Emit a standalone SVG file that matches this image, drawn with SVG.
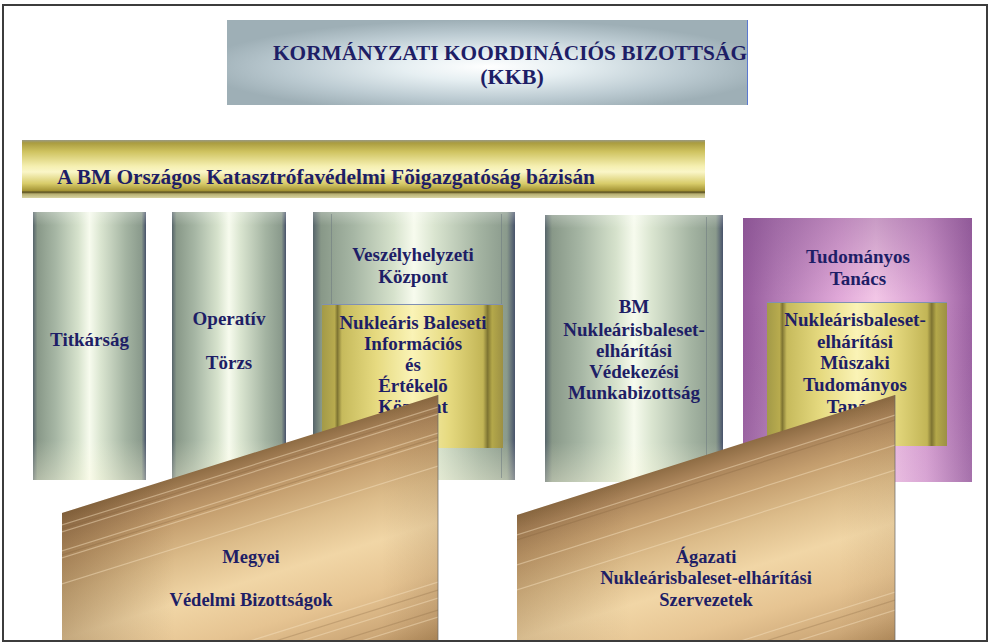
<svg xmlns="http://www.w3.org/2000/svg" width="990" height="644" viewBox="0 0 990 644" font-family="'Liberation Serif', 'Times New Roman', serif">
<defs>
<style>
text{font-family:"Liberation Serif","Times New Roman",serif;font-weight:bold;fill:#1e1e66;text-anchor:middle}
.t19{font-size:19px}
.t18{font-size:18.5px}
.t22{font-size:22px}
.edge{fill:none;stroke:#6d7a80;stroke-width:1;opacity:.55}
.stripeL{stroke:#f6e2c0;stroke-width:1.2;opacity:.45;fill:none}
.stripeD{stroke:#7a5a36;stroke-width:1.2;opacity:.25;fill:none}
</style>
<linearGradient id="gCol" x1="0" y1="0" x2="1" y2="0">
<stop offset="0" stop-color="#56646a"/>
<stop offset="0.04" stop-color="#889888"/>
<stop offset="0.2" stop-color="#a6b6a4"/>
<stop offset="0.4" stop-color="#d6e2cc"/>
<stop offset="0.5" stop-color="#f7fbee"/>
<stop offset="0.6" stop-color="#dae5d0"/>
<stop offset="0.82" stop-color="#a4b4a2"/>
<stop offset="0.96" stop-color="#8a9a8c"/>
<stop offset="1" stop-color="#47526a"/>
</linearGradient>
<linearGradient id="gColV" x1="0" y1="0" x2="0" y2="1">
<stop offset="0" stop-color="#ffffff" stop-opacity="0.25"/>
<stop offset="0.05" stop-color="#ffffff" stop-opacity="0"/>
<stop offset="0.85" stop-color="#fffbe0" stop-opacity="0"/>
<stop offset="1" stop-color="#fffbe0" stop-opacity="0.35"/>
</linearGradient>
<linearGradient id="gPur" x1="0" y1="0" x2="1" y2="0">
<stop offset="0" stop-color="#955a9c"/>
<stop offset="0.15" stop-color="#b27ab4"/>
<stop offset="0.42" stop-color="#e0a8d8"/>
<stop offset="0.58" stop-color="#f2c6e6"/>
<stop offset="0.8" stop-color="#d49bcf"/>
<stop offset="1" stop-color="#9c62a2"/>
</linearGradient>
<linearGradient id="gPurV" x1="0" y1="0" x2="0" y2="1">
<stop offset="0" stop-color="#7a4a86" stop-opacity="0.35"/>
<stop offset="0.3" stop-color="#7a4a86" stop-opacity="0"/>
<stop offset="1" stop-color="#ffffff" stop-opacity="0.1"/>
</linearGradient>
<linearGradient id="gIn" x1="0" y1="0" x2="1" y2="0">
<stop offset="0" stop-color="#a39a48"/>
<stop offset="0.07" stop-color="#b8ab4e"/>
<stop offset="0.085" stop-color="#7e7432"/>
<stop offset="0.11" stop-color="#c6ba5c"/>
<stop offset="0.3" stop-color="#e6da80"/>
<stop offset="0.5" stop-color="#faf3b6"/>
<stop offset="0.7" stop-color="#e6da80"/>
<stop offset="0.89" stop-color="#c2b556"/>
<stop offset="0.915" stop-color="#7e7432"/>
<stop offset="0.94" stop-color="#b4a84a"/>
<stop offset="1" stop-color="#9c9044"/>
</linearGradient>
<radialGradient id="gKKB" cx="0.5" cy="0.55" r="0.55">
<stop offset="0" stop-color="#ffffff"/>
<stop offset="0.3" stop-color="#e6eff2"/>
<stop offset="0.7" stop-color="#bccbd2"/>
<stop offset="1" stop-color="#9eafb6"/>
</radialGradient>
<linearGradient id="gBar" x1="0" y1="0" x2="0" y2="1">
<stop offset="0" stop-color="#9a9a86"/>
<stop offset="0.05" stop-color="#aa9c40"/>
<stop offset="0.2" stop-color="#cfc360"/>
<stop offset="0.45" stop-color="#f5efb0"/>
<stop offset="0.55" stop-color="#faf6c8"/>
<stop offset="0.75" stop-color="#d8cc6a"/>
<stop offset="0.87" stop-color="#a69636"/>
<stop offset="0.9" stop-color="#5a5020"/>
<stop offset="0.93" stop-color="#b6ae70"/>
<stop offset="1" stop-color="#d8d4a2"/>
</linearGradient>
<linearGradient id="gWoodL" gradientUnits="userSpaceOnUse" x1="250" y1="454" x2="319" y2="676">
<stop offset="0" stop-color="#8e6c44"/>
<stop offset="0.07" stop-color="#aa845a"/>
<stop offset="0.18" stop-color="#c49e6e"/>
<stop offset="0.34" stop-color="#dcbc8a"/>
<stop offset="0.52" stop-color="#f1d6a6"/>
<stop offset="0.72" stop-color="#e6c492"/>
<stop offset="0.9" stop-color="#cda878"/>
<stop offset="1" stop-color="#b48e5e"/>
</linearGradient>
<linearGradient id="gWoodR" gradientUnits="userSpaceOnUse" x1="706" y1="455" x2="775" y2="677">
<stop offset="0" stop-color="#8e6c44"/>
<stop offset="0.07" stop-color="#aa845a"/>
<stop offset="0.18" stop-color="#c49e6e"/>
<stop offset="0.34" stop-color="#dcbc8a"/>
<stop offset="0.52" stop-color="#f1d6a6"/>
<stop offset="0.72" stop-color="#e6c492"/>
<stop offset="0.9" stop-color="#cda878"/>
<stop offset="1" stop-color="#b48e5e"/>
</linearGradient>
<linearGradient id="gWoodH" x1="0" y1="0" x2="1" y2="0">
<stop offset="0" stop-color="#5a3c1e" stop-opacity="0.3"/>
<stop offset="0.3" stop-color="#5a3c1e" stop-opacity="0"/>
<stop offset="0.85" stop-color="#5a3c1e" stop-opacity="0"/>
<stop offset="1" stop-color="#5a3c1e" stop-opacity="0.12"/>
</linearGradient>
<clipPath id="cL"><path d="M62,513 L438,395 L438,640 L62,640 Z"/></clipPath>
<clipPath id="cR"><path d="M517,515 L895,395 L895,640 L517,640 Z"/></clipPath>
</defs>

<rect x="0" y="0" width="990" height="644" fill="#ffffff"/>
<rect x="3" y="5" width="984" height="636" fill="none" stroke="#3c3c3c" stroke-width="2"/>

<g id="kkb">
<rect x="227" y="20" width="521" height="85" fill="url(#gKKB)"/>
<line x1="747.5" y1="20" x2="747.5" y2="105" stroke="#5a78d0" stroke-width="1"/>
<text class="t22" x="510" y="60" textLength="474" lengthAdjust="spacingAndGlyphs">KORMÁNYZATI KOORDINÁCIÓS BIZOTTSÁG</text>
<text class="t22" x="512" y="84">(KKB)</text>
</g>

<g id="bm-bazis">
<rect x="22" y="140" width="683" height="58" fill="url(#gBar)"/>
<text class="t22" x="57" y="184" style="text-anchor:start" textLength="538" lengthAdjust="spacingAndGlyphs">A BM Országos Katasztrófavédelmi Fõigazgatóság bázisán</text>
</g>

<g id="titkarsag">
<rect x="33" y="212" width="113" height="268" fill="url(#gCol)"/>
<rect x="33" y="212" width="113" height="268" fill="url(#gColV)"/>
<text class="t19" x="89.5" y="346">Titkárság</text>
</g>

<g id="operativ-torzs">
<rect x="172" y="212" width="114" height="268" fill="url(#gCol)"/>
<rect x="172" y="212" width="114" height="268" fill="url(#gColV)"/>
<text class="t19" x="229" y="325">Operatív</text>
<text class="t19" x="229" y="369">Törzs</text>
</g>

<g id="veszelyhelyzeti-kozpont">
<rect x="313" y="212" width="202" height="268" fill="url(#gCol)"/>
<rect x="313" y="212" width="202" height="268" fill="url(#gColV)"/>
<line class="edge" x1="331.5" y1="214" x2="331.5" y2="478"/>
<line class="edge" x1="501.5" y1="214" x2="501.5" y2="478"/>
<text class="t19" x="413" y="261">Veszélyhelyzeti</text>
<text class="t19" x="413" y="283">Központ</text>
<g id="nuklearis-baleseti-kozpont">
<rect x="322" y="304" width="181" height="144" fill="url(#gIn)"/>
<line x1="322" y1="304.5" x2="503" y2="304.5" stroke="#8090b4" stroke-width="1"/>
<text class="t19" x="413" y="329">Nukleáris Baleseti</text>
<text class="t19" x="413" y="350">Információs</text>
<text class="t19" x="413" y="371">és</text>
<text class="t19" x="413" y="392">Értékelõ</text>
<text class="t19" x="413" y="413">Központ</text>
</g>
</g>

<g id="bm-munkabizottsag">
<rect x="545" y="215" width="178" height="267" fill="url(#gCol)"/>
<rect x="545" y="215" width="178" height="267" fill="url(#gColV)"/>
<line class="edge" x1="706.5" y1="217" x2="706.5" y2="480"/>
<text class="t19" x="634" y="313">BM</text>
<text class="t19" x="634" y="336">Nukleárisbaleset-</text>
<text class="t19" x="634" y="357">elhárítási</text>
<text class="t19" x="634" y="378">Védekezési</text>
<text class="t19" x="634" y="399">Munkabizottság</text>
</g>

<g id="tudomanyos-tanacs">
<rect x="743" y="218" width="229" height="264" fill="url(#gPur)"/>
<rect x="743" y="218" width="229" height="264" fill="url(#gPurV)"/>
<text class="t19" x="858" y="263">Tudományos</text>
<text class="t19" x="858" y="285">Tanács</text>
<g id="muszaki-tudomanyos-tanacs">
<rect x="767" y="302" width="180" height="144" fill="url(#gIn)"/>
<line x1="767" y1="302.5" x2="947" y2="302.5" stroke="#8090b4" stroke-width="1"/>
<text class="t19" x="855" y="326">Nukleárisbaleset-</text>
<text class="t19" x="855" y="348">elhárítási</text>
<text class="t19" x="855" y="369">Mûszaki</text>
<text class="t19" x="855" y="391">Tudományos</text>
<text class="t19" x="855" y="413">Tanács</text>
</g>
</g>

<g id="megyei-vedelmi-bizottsagok">
<path d="M62,513 L438,395 L438,640 L62,640 Z" fill="url(#gWoodL)"/>
<g clip-path="url(#cL)">
<rect x="62" y="395" width="376" height="245" fill="url(#gWoodH)"/>
<path class="stripeL" d="M62,525 L438,407 M62,532 L438,414 M62,551 L438,433 M62,558 L438,440 M62,584 L438,466 M62,700 L438,582 M62,716 L438,598 M62,735 L438,617"/>
<path class="stripeD" d="M62,529 L438,411 M62,555 L438,437 M62,708 L438,590 M62,728 L438,610"/>
</g>
<line x1="438" y1="395" x2="438" y2="640" stroke="#6a6a6a" stroke-width="1.2" opacity="0.6"/>
<text class="t18" x="251" y="563">Megyei</text>
<text class="t18" x="251" y="606">Védelmi Bizottságok</text>
</g>

<g id="agazati-szervezetek">
<path d="M517,515 L895,395 L895,640 L517,640 Z" fill="url(#gWoodR)"/>
<g clip-path="url(#cR)">
<rect x="517" y="395" width="378" height="245" fill="url(#gWoodH)" opacity="0.6"/>
<path class="stripeL" d="M517,535 L895,415 M517,565 L895,445 M517,590 L895,470 M517,712 L895,592 M517,730 L895,610"/>
<path class="stripeD" d="M517,540 L895,420 M517,720 L895,600"/>
</g>
<line x1="895" y1="395" x2="895" y2="640" stroke="#6a6a6a" stroke-width="1.2" opacity="0.6"/>
<text class="t18" x="706" y="563">Ágazati</text>
<text class="t18" x="706" y="584">Nukleárisbaleset-elhárítási</text>
<text class="t18" x="706" y="606">Szervezetek</text>
</g>

<g id="connectors"/>
</svg>
